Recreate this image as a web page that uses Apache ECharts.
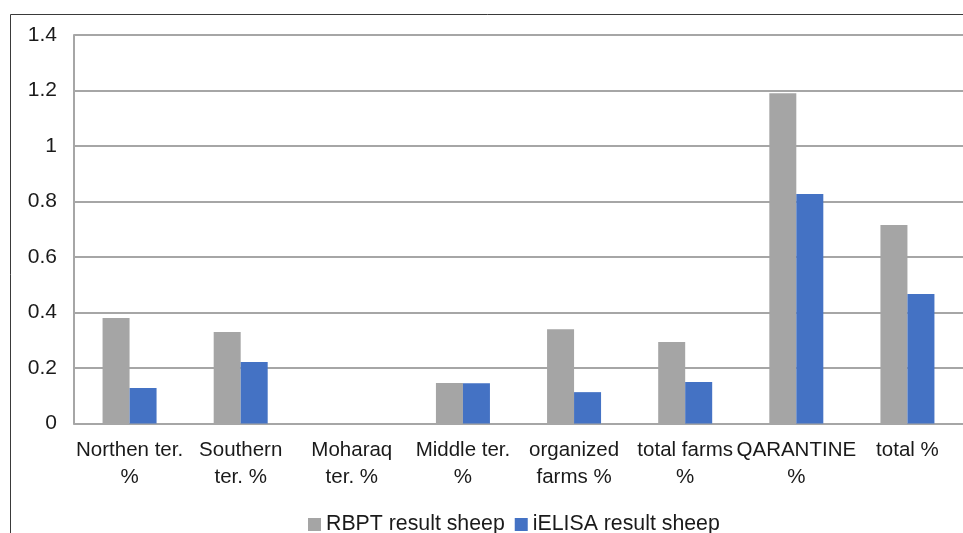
<!DOCTYPE html>
<html>
<head>
<meta charset="utf-8">
<script src="https://cdn.jsdelivr.net/npm/echarts@6/dist/echarts.min.js"></script>
<style>
  html, body { margin: 0; padding: 0; background: #fff; }
  #chart { width: 963px; height: 533px; }
</style>
</head>
<body>
<div id="chart"></div>
<script>
// category labels (two lines like the original)
const categories = [
  'Northen ter.\n%',
  'Southern\nter. %',
  'Moharaq\nter. %',
  'Middle ter.\n%',
  'organized\nfarms %',
  'total farms\n%',
  'QARANTINE\n%',
  'total %'
];
const rbptSheep = [0.38, 0.33, 0, 0.146, 0.34, 0.294, 1.19, 0.715];
const ielisaSheep = [0.128, 0.222, 0, 0.145, 0.113, 0.15, 0.827, 0.467];
const seriesNames = ['RBPT result sheep', 'iELISA result sheep'];

const chart = echarts.init(document.getElementById('chart'));
const font = 'Liberation Sans, Arial, sans-serif';

chart.setOption({
  animation: false,
  textStyle: { fontFamily: font },
  graphic: [
    {
      type: 'rect',
      shape: { x: 10.5, y: 14.5, width: 1000, height: 600 },
      style: { fill: 'none', stroke: '#3a3a3a', lineWidth: 1 },
      silent: true
    }
  ],
  grid: {
    left: 74,
    top: 35,
    width: 896,
    height: 388.5,
    containLabel: false
  },
  legend: {
    top: 509,
    left: 303,
    itemWidth: 13,
    itemHeight: 13,
    itemGap: 10,
    icon: 'rect',
    textStyle: { fontSize: 21.3, color: '#1a1a1a', fontFamily: font },
    data: seriesNames
  },
  xAxis: {
    type: 'category',
    data: categories,
    axisLine: { lineStyle: { color: '#a6a6a6', width: 2 } },
    axisTick: { show: false },
    axisLabel: {
      interval: 0,
      fontSize: 20.5,
      color: '#1a1a1a',
      lineHeight: 27,
      margin: 13,
      fontFamily: font
    }
  },
  yAxis: {
    type: 'value',
    min: 0,
    max: 1.4,
    interval: 0.2,
    axisLine: { show: true, lineStyle: { color: '#a6a6a6', width: 2 } },
    axisTick: { show: false },
    splitLine: { lineStyle: { color: '#a6a6a6', width: 2 } },
    axisLabel: {
      fontSize: 21,
      color: '#1a1a1a',
      margin: 17,
      fontFamily: font,
      formatter: v => String(Math.round(v * 10) / 10)
    }
  },
  series: [
    {
      name: seriesNames[0],
      type: 'bar',
      data: rbptSheep,
      barWidth: 27,
      barGap: '0%',
      itemStyle: { color: '#a5a5a5' }
    },
    {
      name: seriesNames[1],
      type: 'bar',
      data: ielisaSheep,
      barWidth: 27,
      barGap: '0%',
      itemStyle: { color: '#4472c4' }
    }
  ]
});
</script>
</body>
</html>
